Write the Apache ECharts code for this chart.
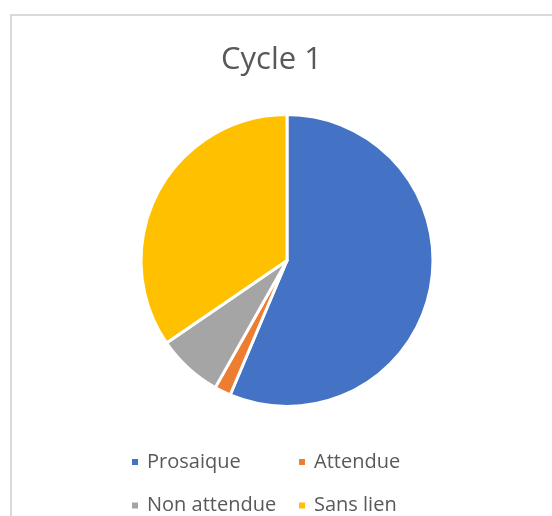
<!DOCTYPE html>
<html>
<head>
<meta charset="utf-8">
<script src="https://cdn.jsdelivr.net/npm/echarts@6/dist/echarts.min.js"></script>
<style>
html,body{margin:0;padding:0;background:#fff;}
#chart{width:552px;height:516px;}
</style>
</head>
<body>
<div id="chart"></div>
<script>
const titleText = "Cycle 1";
const categories = ["Prosaique", "Attendue", "Non attendue", "Sans lien"];
const values = [31, 1, 4, 19];
const colors = ["#4472C4", "#ED7D31", "#A5A5A5", "#FFC000"];

const chart = echarts.init(document.getElementById('chart'), null, {renderer: 'canvas'});

const legendPos = [
  {left: 125, top: 447},
  {left: 292, top: 447},
  {left: 125, top: 490.5},
  {left: 292, top: 490.5}
];
const fontFam = "'Open Sans', 'Noto Sans', sans-serif";

const legends = categories.map((c, i) => ({
  data: [c],
  left: legendPos[i].left,
  top: legendPos[i].top,
  icon: 'rect',
  itemWidth: 8,
  itemHeight: 8,
  selectedMode: false,
  textStyle: {color: '#595959', fontSize: 20, fontFamily: fontFam, padding: [0, 0, 0, 3]}
}));

chart.setOption({
  animation: false,
  backgroundColor: '#fff',
  title: {
    text: titleText,
    left: 216,
    top: 40,
    textStyle: {color: '#595959', fontSize: 31, fontWeight: 'normal', fontFamily: fontFam}
  },
  legend: legends,
  graphic: [
    {type: 'line', shape: {x1: 10, y1: 15, x2: 552, y2: 15}, style: {stroke: '#d9d9d9', lineWidth: 2}, silent: true},
    {type: 'line', shape: {x1: 11, y1: 14, x2: 11, y2: 516}, style: {stroke: '#d9d9d9', lineWidth: 2}, silent: true}
  ],
  series: [{
    type: 'pie',
    center: [287, 260.5],
    radius: [0, 146],
    startAngle: 90,
    clockwise: true,
    label: {show: false},
    labelLine: {show: false},
    emphasis: {disabled: true},
    itemStyle: {borderColor: '#fff', borderWidth: 3},
    data: categories.map((c, i) => ({name: c, value: values[i], itemStyle: {color: colors[i]}}))
  }]
});
</script>
</body>
</html>
